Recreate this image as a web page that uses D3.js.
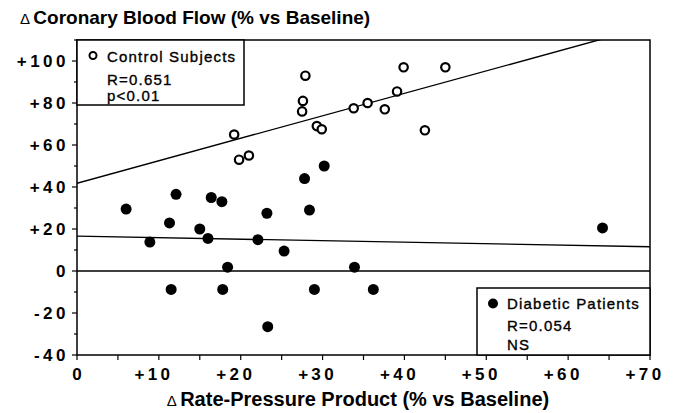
<!DOCTYPE html>
<html lang="en">
<head>
<meta charset="UTF-8">
<title>Coronary Blood Flow vs Rate-Pressure Product</title>
<script src="https://d3js.org/d3.v7.min.js"></script>
<style>
    body, html { margin: 0; padding: 0; background: #fff; }
    svg { display: block; font-family: "Liberation Sans", Arial, sans-serif; }
    .tick-label { font-size: 17px; font-weight: bold; letter-spacing: 3.5px; }
    .legend-text { font-size: 15px; letter-spacing: 1.2px; stroke: #000; stroke-width: 0.35px; }
</style>
</head>
<body>
<svg id="chart" width="682" height="413"></svg>
<script>
// control subjects (open circles)
const controlX = [19.2, 19.8, 21.0, 27.5, 27.6, 27.9, 29.3, 29.9, 33.8, 35.5, 37.6, 39.1, 39.9, 42.5, 45.0];
const controlY = [65, 53, 55, 76, 81, 93, 69, 67.5, 77.5, 80, 77, 85.5, 97, 67, 97];

// diabetic patients (filled circles)
const diabeticX = [6.0, 8.9, 11.3, 11.5, 12.1, 15.0, 16.0, 16.4, 17.7, 17.8, 18.4, 22.1, 23.2, 23.3, 25.3, 27.8, 28.4, 29.0, 30.2, 33.9, 36.2, 64.2];
const diabeticY = [29.5, 13.8, 22.9, -8.8, 36.5, 20, 15.5, 35, 33, -8.8, 1.8, 14.9, 27.5, -26.5, 9.5, 44, 29, -8.8, 50, 1.8, -8.8, 20.5];

// regression lines: [intercept, slope]
const controlFit = [41.8, 1.07];
const diabeticFit = [16.6, -0.072];

const xTickValues = [0, 10, 20, 30, 40, 50, 60, 70];
const yTickValues = [-40, -20, 0, 20, 40, 60, 80, 100];

const controlLegend = ["Control Subjects", "R=0.651", "p<0.01"];
const diabeticLegend = ["Diabetic Patients", "R=0.054", "NS"];

const fmt = v => v > 0 ? "+" + v : String(v);

const margin = { top: 40, right: 32, bottom: 58, left: 77 };
const width = 682, height = 413;

const svg = d3.select("#chart");

const x = d3.scaleLinear().domain([0, 70]).range([margin.left, width - margin.right]);
const y = d3.scaleLinear().domain([-40, 110]).range([height - margin.bottom, margin.top]);

svg.append("clipPath").attr("id", "plot-clip")
    .append("rect")
    .attr("x", x(0)).attr("y", y(110))
    .attr("width", x(70) - x(0)).attr("height", y(-40) - y(110));

// zero line
svg.append("line")
    .attr("x1", x(0)).attr("x2", x(70))
    .attr("y1", y(0)).attr("y2", y(0))
    .attr("stroke", "#000").attr("stroke-width", 1.4);

// regression lines
const fitLine = fit => d3.line()
    .x(d => x(d))
    .y(d => y(fit[0] + fit[1] * d))([0, 70]);

svg.append("path").attr("d", fitLine(controlFit))
    .attr("clip-path", "url(#plot-clip)")
    .attr("fill", "none").attr("stroke", "#000").attr("stroke-width", 1.4);
svg.append("path").attr("d", fitLine(diabeticFit))
    .attr("clip-path", "url(#plot-clip)")
    .attr("fill", "none").attr("stroke", "#000").attr("stroke-width", 1.4);

// frame
svg.append("rect")
    .attr("x", x(0)).attr("y", y(110))
    .attr("width", x(70) - x(0)).attr("height", y(-40) - y(110))
    .attr("fill", "none").attr("stroke", "#000").attr("stroke-width", 1.5);

// y axis ticks
const yMinor = d3.range(-40, 111, 10);
svg.append("g").selectAll("line")
    .data(yMinor)
    .join("line")
    .attr("x1", d => x(0) - (d % 20 === 0 ? 5 : 3))
    .attr("x2", x(0))
    .attr("y1", d => y(d)).attr("y2", d => y(d))
    .attr("stroke", "#000").attr("stroke-width", 1.2);

svg.append("g").selectAll("text")
    .data(yTickValues)
    .join("text")
    .attr("class", "tick-label")
    .attr("x", x(0) - 8)
    .attr("y", d => y(d))
    .attr("dy", "0.36em")
    .attr("text-anchor", "end")
    .text(fmt);

// x axis ticks
svg.append("g").selectAll("line")
    .data(d3.range(0, 71, 5))
    .join("line")
    .attr("x1", d => x(d)).attr("x2", d => x(d))
    .attr("y1", y(-40)).attr("y2", y(-40) + 5)
    .attr("stroke", "#000").attr("stroke-width", 1.2);

// digits centred on the tick, the sign hangs to the left
const xLab = svg.append("g").selectAll("g")
    .data(xTickValues)
    .join("g")
    .attr("transform", d => `translate(${x(d)},${y(-40) + 25})`);

xLab.append("text")
    .attr("class", "tick-label")
    .attr("text-anchor", "middle")
    .attr("dx", "1.75px")
    .text(d => String(Math.abs(d)));

xLab.filter(d => d > 0).append("text")
    .attr("class", "tick-label")
    .attr("text-anchor", "end")
    .attr("x", -11)
    .text("+");

// points
svg.append("g").selectAll("circle")
    .data(diabeticX.map((v, i) => [v, diabeticY[i]]))
    .join("circle")
    .attr("cx", d => x(d[0])).attr("cy", d => y(d[1]))
    .attr("r", 5.5)
    .attr("fill", "#000");

svg.append("g").selectAll("circle")
    .data(controlX.map((v, i) => [v, controlY[i]]))
    .join("circle")
    .attr("cx", d => x(d[0])).attr("cy", d => y(d[1]))
    .attr("r", 4.2)
    .attr("fill", "#fff").attr("stroke", "#000").attr("stroke-width", 2.2);

// legend boxes
function legend(x0, y0, x1, y1, lines, filled, lineY) {
    const g = svg.append("g");
    g.append("rect")
        .attr("x", x0).attr("y", y0)
        .attr("width", x1 - x0).attr("height", y1 - y0)
        .attr("fill", "#fff").attr("stroke", "#000").attr("stroke-width", 1.5);
    if (filled) {
        g.append("circle").attr("cx", x0 + 16).attr("cy", lineY[0] - 5.5).attr("r", 5).attr("fill", "#000");
    } else {
        g.append("circle").attr("cx", x0 + 16).attr("cy", lineY[0] - 6.5).attr("r", 3.5)
            .attr("fill", "#fff").attr("stroke", "#000").attr("stroke-width", 2);
    }
    g.selectAll("text")
        .data(lines)
        .join("text")
        .attr("class", "legend-text")
        .attr("x", x0 + 30)
        .attr("y", (d, i) => lineY[i])
        .text(d => d);
}

legend(x(0), y(110), 244, 105, controlLegend, false, [62, 85, 101]);
legend(477, 288, x(70), y(-40), diabeticLegend, true, [309, 331, 350]);

// titles
const title = svg.append("text")
    .attr("x", 20).attr("y", 24)
    .attr("font-size", 19).attr("font-weight", "bold");
title.append("tspan").attr("font-weight", "normal").attr("font-size", 15).text("\u0394 ");
title.append("tspan").text("Coronary Blood Flow (% vs Baseline)");

const xTitle = svg.append("text")
    .attr("x", 358).attr("y", 406)
    .attr("text-anchor", "middle")
    .attr("font-size", 20).attr("font-weight", "bold");
xTitle.append("tspan").attr("font-weight", "normal").attr("font-size", 15).text("\u0394 ");
xTitle.append("tspan").text("Rate-Pressure Product (% vs Baseline)");
</script>
</body>
</html>
